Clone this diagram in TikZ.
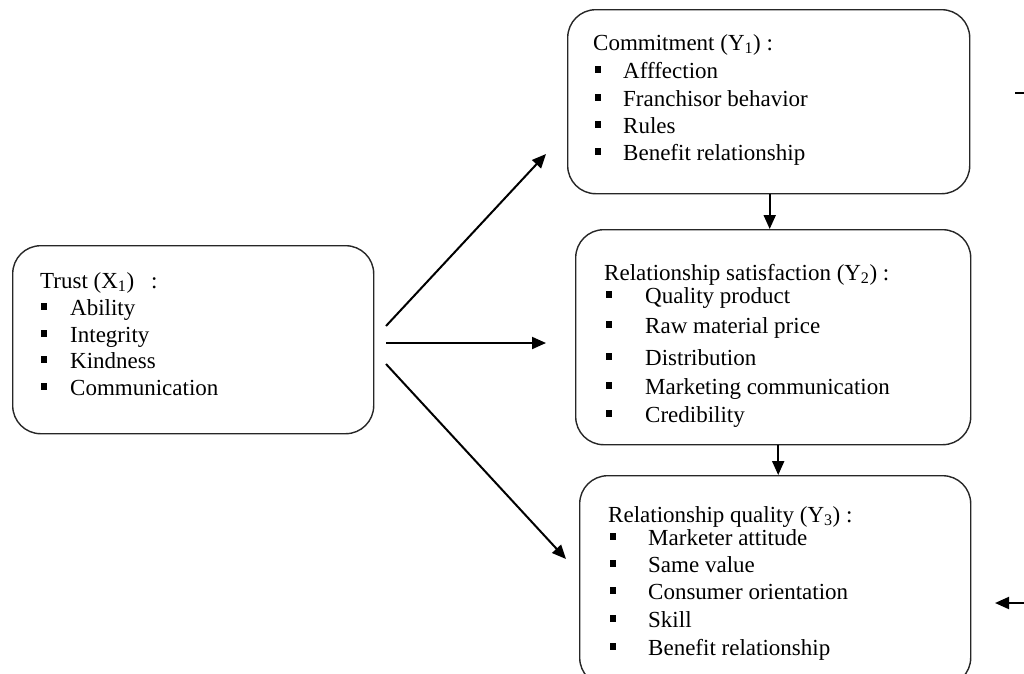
\documentclass[tikz,border=0pt]{standalone}
\usepackage{fontspec}
\setmainfont{Liberation Serif}
\usetikzlibrary{arrows.meta}
\newcommand\bulgap[1]{\llap{\rule[5pt]{6pt}{7pt}\hspace{#1}}}
\begin{document}
\begin{tikzpicture}[x=1pt,y=-1pt,
  box/.style={draw=black!85, line width=1.4pt, rounded corners=28pt, anchor=north west, inner sep=0pt},
  txt/.style={anchor=base west, inner sep=0pt, font=\fontsize{23}{27}\selectfont},
  conn/.style={line width=2pt, -{Triangle[length=14pt,width=12pt]}},
  plain/.style={line width=2pt}
]
\useasboundingbox (0,0) rectangle (1024,673);
\clip (0,0) rectangle (1024,673);
% boxes
\node[box, minimum width=361pt, minimum height=188pt] (trust) at (12,245) {};
\node[box, minimum width=402pt, minimum height=184pt] (y1) at (567,9) {};
\node[box, minimum width=395pt, minimum height=215pt] (y2) at (575,229) {};
\node[box, minimum width=391pt, minimum height=210pt] (y3) at (579,475) {};
% trust text
\node[txt] (th) at (40,288) {Trust (X\textsubscript{1})\hspace{17pt}:};
\node[txt] (t1) at (70,315) {\bulgap{23pt}Ability};
\node[txt] (t2) at (70,342) {\bulgap{23pt}Integrity};
\node[txt] (t3) at (70,368) {\bulgap{23pt}Kindness};
\node[txt] (t4) at (70,395) {\bulgap{23pt}Communication};
% Y1 text
\node[txt] (ah) at (593,50) {Commitment (Y\textsubscript{1}) :};
\node[txt] (a1) at (623,78) {\bulgap{22pt}Afffection};
\node[txt] (a2) at (623,106) {\bulgap{22pt}Franchisor behavior};
\node[txt] (a3) at (623,133) {\bulgap{22pt}Rules};
\node[txt] (a4) at (623,160) {\bulgap{22pt}Benefit relationship};
% Y2 text
\node[txt] (bh) at (604,280) {Relationship satisfaction (Y\textsubscript{2}) :};
\node[txt] (b1) at (645,303) {\bulgap{33pt}Quality product};
\node[txt] (b2) at (645,333) {\bulgap{33pt}Raw material price};
\node[txt] (b3) at (645,365) {\bulgap{33pt}Distribution};
\node[txt] (b4) at (645,394) {\bulgap{33pt}Marketing communication};
\node[txt] (b5) at (645,422) {\bulgap{33pt}Credibility};
% Y3 text
\node[txt] (ch) at (608,522) {Relationship quality (Y\textsubscript{3}) :};
\node[txt] (c1) at (648,545) {\bulgap{32pt}Marketer attitude};
\node[txt] (c2) at (648,572) {\bulgap{32pt}Same value};
\node[txt] (c3) at (648,599) {\bulgap{32pt}Consumer orientation};
\node[txt] (c4) at (648,627) {\bulgap{32pt}Skill};
\node[txt] (c5) at (648,655) {\bulgap{32pt}Benefit relationship};
% connector endpoints
\coordinate (s1) at (386,326);
\coordinate (e1) at (546,154);
\coordinate (s2) at (386,343);
\coordinate (e2) at (546,343);
\coordinate (s3) at (386,364);
\coordinate (e3) at (566,559);
\coordinate (r1s) at (1015,93);
\coordinate (r1e) at (1024,93);
\coordinate (r2s) at (1024,603);
\coordinate (r2e) at (995,603);
% connectors
\draw[conn] (s1) -- (e1);
\draw[conn] (s2) -- (e2);
\draw[conn] (s3) -- (e3);
\draw[conn] ([xshift=1pt]y1.south) -- ([xshift=1pt]y1.south |- y2.north);
\draw[conn] ([xshift=5pt]y2.south) -- ([xshift=5pt]y2.south |- y3.north);
\draw[plain] (r1s) -- (r1e);
\draw[conn] (r2s) -- (r2e);
\end{tikzpicture}
\end{document}
